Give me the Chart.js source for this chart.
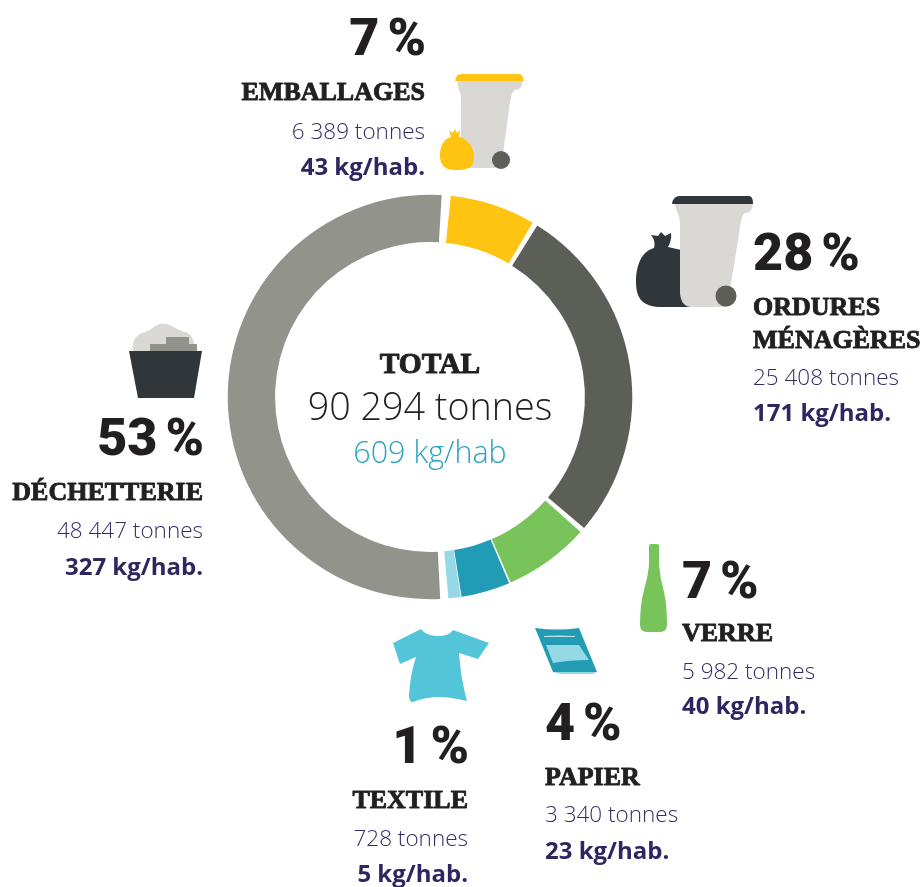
<!DOCTYPE html>
<html lang="fr">
<head>
<meta charset="utf-8">
<title>Déchets</title>
<script src="https://cdn.jsdelivr.net/npm/chart.js@4/dist/chart.umd.min.js"></script>
<style>
  html, body { margin: 0; padding: 0; background: #fff; }
  canvas { display: block; }
</style>
</head>
<body>
<canvas id="chart" width="924" height="887"></canvas>
<script>
// ===== DATA =====
const categories = ['EMBALLAGES', 'ORDURES MÉNAGÈRES', 'VERRE', 'PAPIER', 'TEXTILE', 'DÉCHETTERIE'];
const shares = [7, 28, 7, 4, 1, 53];
const percents = ['7 %', '28 %', '7 %', '4 %', '1 %', '53 %'];
const tonnesLabels = ['6 389 tonnes', '25 408 tonnes', '5 982 tonnes', '3 340 tonnes', '728 tonnes', '48 447 tonnes'];
const kgLabels = ['43 kg/hab.', '171 kg/hab.', '40 kg/hab.', '23 kg/hab.', '5 kg/hab.', '327 kg/hab.'];
const sliceColors = ['#FFC312', '#5C5E58', '#78C45A', '#219CB4', '#97D8E6', '#92948C'];

// ===== TEXT LAYOUT =====
const BLOCKS = [
  { x: 425, align: 'right', pct: 55, name: [100], t: 139, kg: 175 },
  { x: 753, align: 'left', pct: 270, name: [315, 348], t: 385, kg: 421 },
  { x: 682, align: 'left', pct: 598, name: [641], t: 679, kg: 714 },
  { x: 545, align: 'left', pct: 740, name: [785], t: 822, kg: 859 },
  { x: 468, align: 'right', pct: 763, name: [808], t: 846, kg: 882 },
  { x: 203, align: 'right', pct: 455, name: [500], t: 538, kg: 575 },
];
const SERIF = "'Liberation Serif'";
const ROBOTO = 'Roboto';
const SANS = "'Open Sans'";

// bold is the stroke width that thickens the thin parts of the serif letters
function text(ctx, str, x, y, font, color, align, bold = 0) {
  ctx.font = font;
  ctx.fillStyle = color;
  ctx.textAlign = align;
  ctx.textBaseline = 'alphabetic';
  if (bold) {
    ctx.strokeStyle = color;
    ctx.lineWidth = bold;
    ctx.lineJoin = 'round';
    ctx.strokeText(str, x, y);
  }
  ctx.fillText(str, x, y);
}

function fillPath(ctx, d, color) {
  ctx.fillStyle = color;
  ctx.fill(new Path2D(d));
}

function circle(ctx, x, y, r, color) {
  ctx.fillStyle = color;
  ctx.beginPath();
  ctx.arc(x, y, r, 0, Math.PI * 2);
  ctx.fill();
}

// ===== ICONS =====
function drawIcons(ctx) {
  // emballages bin + bag
  fillPath(ctx, 'M457 81 L459 90 Q461 93 461 100 L461 168 L501 168 L509 110 Q511 91 515 90 Q522 90 523 81 Z', '#D9D8D5');
  fillPath(ctx, 'M455 81 Q456 74 461 74 L519 74 Q523 74 523.5 81 Z', '#FFC312');
  circle(ctx, 501, 160, 9, '#5C5E58');
  fillPath(ctx, 'M451 137 C443 139 440 147 440 156 C440 166 446 170 455 170 C468 170 474 168 474 157 C474 147 468 139 459 137 L460 130 L457 133 L455 129 L453 133 L449 130 Z', '#FFC312');

  // ordures menageres bag + bin
  fillPath(ctx, 'M654 248 C642 251 636 265 636 282 C636 300 644 307 662 307 L690 307 L690 252 L668 247 Q672 240 671 233 L665 236 L661 232 L658 236 L651 235 Q656 241 654 248 Z', '#30363A');
  fillPath(ctx, 'M675 204 L677 212 Q680 217 680 225 L680 293 Q681 307 692 307 L727 307 L739 235 Q741 214 745 213 Q752 213 753 204 Z', '#D9D8D5');
  fillPath(ctx, 'M672 204 Q673 196 680 196 L749 196 Q753 196 753 204 Z', '#30363A');
  circle(ctx, 726, 296, 10.5, '#5C5E58');

  // verre bottle
  fillPath(ctx, 'M649 546 Q649 544 651 544 L657 544 Q659 544 659 546 L659 565 Q660 578 664 592 Q667 605 667 625 Q667 632 660 632 L647 632 Q640 632 640 625 Q640 605 644 590 Q648 577 649 565 Z', '#78C45A');

  // papier pack
  fillPath(ctx, 'M535 628 Q557 631 579 628 L597 672 L553 672 Z', '#219CB4');
  fillPath(ctx, 'M546 645 L579 645 L589 660 Q570 660 553 663 Z', '#97D8E6');
  fillPath(ctx, 'M553 672 L597 672 L593 674 L560 674 Z', '#97D8E6');
  fillPath(ctx, 'M544 636 Q557 635 575 636 L575 637 Q557 637 544 637 Z', '#BFE3EC');

  // textile t-shirt
  fillPath(ctx, 'M393 643 L421 629 Q426 636 438 636 Q449 636 453 630 L489 643 L478 659 L459 653 Q461 680 467 701 Q450 697 440 697 Q425 697 413 702 Q409 702 409 696 Q410 675 416 657 L400 664 Z', '#54C5D9');

  // dechetterie skip
  fillPath(ctx, 'M133 351 Q131 337 142 333 Q150 331 155 326 Q163 321 172 326 Q178 330 188 333 Q195 338 195 351 Z', '#D9D8D5');
  fillPath(ctx, 'M150 351 L150 344 L166 344 L166 337 L189 337 L189 344 L197 344 L197 351 Z', '#92948C');
  fillPath(ctx, 'M129 351 L202 351 L194 398 L138 398 Z', '#30363A');
}

// ===== LABELS =====
function drawLabels(ctx) {
  BLOCKS.forEach((b, i) => {
    ctx.wordSpacing = '-5px';
    text(ctx, percents[i], b.align === 'right' ? b.x + 1 : b.x, b.pct, `900 52px ${ROBOTO}`, '#231F20', b.align);
    ctx.wordSpacing = '0px';
    const lines = i === 1 ? categories[i].split(' ') : [categories[i]];
    lines.forEach((line, j) => text(ctx, line, b.x, b.name[j], `bold 26px ${SERIF}`, '#231F20', b.align, 0.9));
    text(ctx, tonnesLabels[i], b.x, b.t, `300 22.5px ${SANS}`, '#352C66', b.align);
    text(ctx, kgLabels[i], b.x, b.kg, `bold 24px ${SANS}`, '#2F2560', b.align);
  });
  text(ctx, 'TOTAL', 430, 373, `bold 29.5px ${SERIF}`, '#231F20', 'center', 1);
  text(ctx, '90 294 tonnes', 430, 420, `300 37.7px ${SANS}`, '#231F20', 'center');
  text(ctx, '609 kg/hab', 430, 463, `300 30.5px ${SANS}`, '#2BA4BE', 'center');
}

const artPlugin = {
  id: 'art',
  afterDraw(chart) {
    const ctx = chart.ctx;
    ctx.save();
    drawIcons(ctx);
    drawLabels(ctx);
    ctx.restore();
  },
};

new Chart(document.getElementById('chart'), {
  type: 'doughnut',
  data: {
    labels: categories,
    datasets: [{
      data: shares,
      backgroundColor: sliceColors,
      borderWidth: 0,
      spacing: 8.5,
    }],
  },
  options: {
    responsive: false,
    animation: false,
    rotation: 5.6,
    radius: 198,
    cutout: '76.1%',
    layout: { padding: { right: 64, bottom: 93 } },
    plugins: { legend: { display: false }, tooltip: { enabled: false } },
  },
  plugins: [artPlugin],
});
</script>
</body>
</html>
